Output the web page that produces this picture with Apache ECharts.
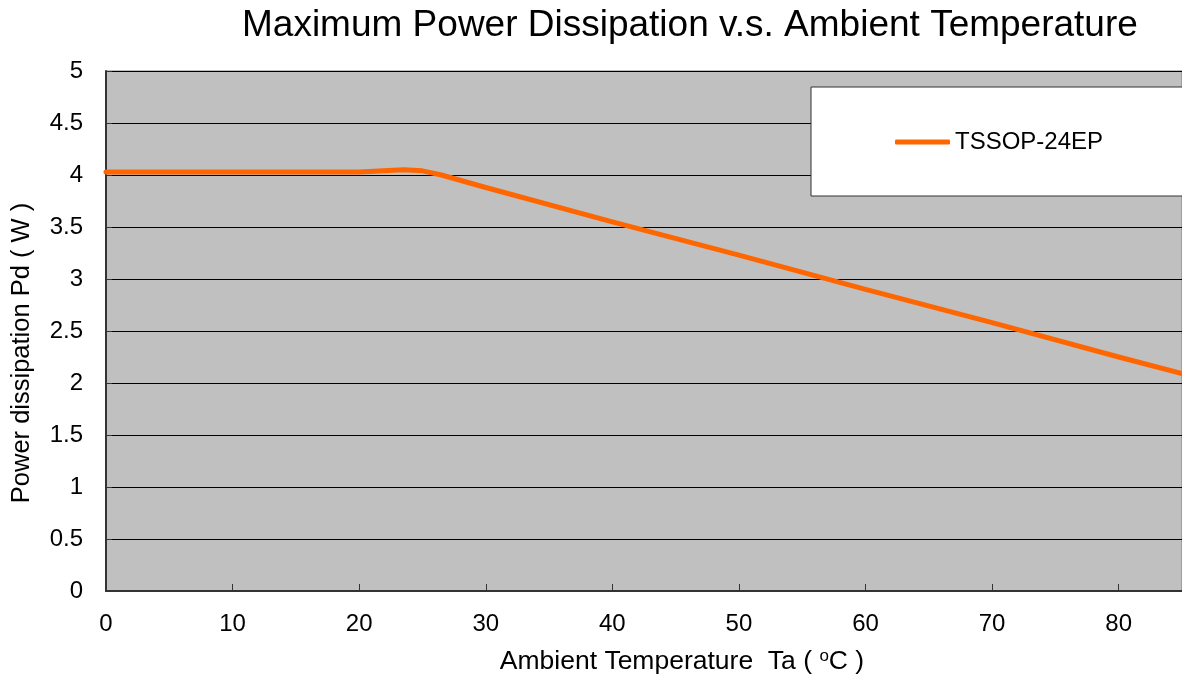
<!DOCTYPE html>
<html>
<head>
<meta charset="utf-8">
<script src="https://cdn.jsdelivr.net/npm/echarts@6/dist/echarts.min.js"></script>
<style>
  html, body { margin: 0; padding: 0; background: #fff; }
  #main { width: 1182px; height: 678px; }
</style>
</head>
<body>
<div id="main"></div>
<script>
  // data
  var seriesName = 'TSSOP-24EP';
  var tempC  = [0, 20, 23.5, 25, 26.5, 30, 40, 50, 60, 70, 80, 85];
  var powerW = [4.03, 4.03, 4.05, 4.04, 4.0, 3.88, 3.55, 3.23, 2.90, 2.58, 2.25, 2.09];

  var font = '"Liberation Sans", Arial, sans-serif';
  var chart = echarts.init(document.getElementById('main'));

  var option = {
    backgroundColor: '#fff',
    animation: false,
    title: {
      text: 'Maximum Power Dissipation v.s. Ambient Temperature',
      left: 242,
      top: 7,
      padding: 0,
      textStyle: { fontFamily: font, fontSize: 37, fontWeight: 'normal', color: '#000' }
    },
    grid: {
      left: 106, right: 0, top: 71, bottom: 87,
      outerBoundsMode: 'none',
      containLabel: false,
      show: true,
      backgroundColor: '#c0c0c0',
      borderColor: '#7f7f7f',
      borderWidth: 1
    },
    legend: {
      left: 811,
      top: 87,
      orient: 'horizontal',
      backgroundColor: '#fff',
      borderColor: '#333',
      borderWidth: 1,
      padding: [43, 90, 42, 84],
      icon: 'roundRect',
      itemWidth: 55,
      itemHeight: 5,
      textStyle: { fontFamily: font, fontSize: 24, color: '#000' },
      data: [seriesName]
    },
    xAxis: {
      type: 'value',
      min: 0,
      max: 85,
      interval: 10,
      name: 'Ambient Temperature  Ta ( {sup|o}C )',
      nameLocation: 'middle',
      nameGap: 57,
      nameTextStyle: {
        fontFamily: font, fontSize: 26.5, color: '#000', lineHeight: 28,
        padding: [0, 0, 0, 76],
        rich: { sup: { fontFamily: font, fontSize: 17, lineHeight: 28, verticalAlign: 'top', color: '#000' } }
      },
      axisLine: { show: true, lineStyle: { color: '#333', width: 2 } },
      axisTick: { show: true, inside: true, length: 7, lineStyle: { color: '#333', width: 1 } },
      axisLabel: { showMaxLabel: false, margin: 21, fontFamily: font, fontSize: 24, color: '#000' },
      splitLine: { show: false }
    },
    yAxis: {
      type: 'value',
      min: 0,
      max: 5,
      interval: 0.5,
      name: 'Power dissipation Pd ( W )',
      nameLocation: 'middle',
      nameRotate: 90,
      nameGap: 71,
      nameTextStyle: { fontFamily: font, fontSize: 25.5, color: '#000', padding: [0, 44, 0, 0] },
      axisLine: { show: true, lineStyle: { color: '#333', width: 2 } },
      axisTick: { show: true, inside: true, length: 6, lineStyle: { color: '#333' } },
      axisLabel: { margin: 23, fontFamily: font, fontSize: 24, color: '#000' },
      splitLine: { show: true, lineStyle: { color: '#000', width: 1 } }
    },
    series: [
      {
        name: seriesName,
        type: 'line',
        symbol: 'none',
        showSymbol: false,
        data: tempC.map(function (t, i) { return [t, powerW[i]]; }),
        lineStyle: { color: '#ff6600', width: 5, cap: 'round', join: 'round' },
        itemStyle: { color: '#ff6600' }
      }
    ]
  };

  chart.setOption(option);
</script>
</body>
</html>
